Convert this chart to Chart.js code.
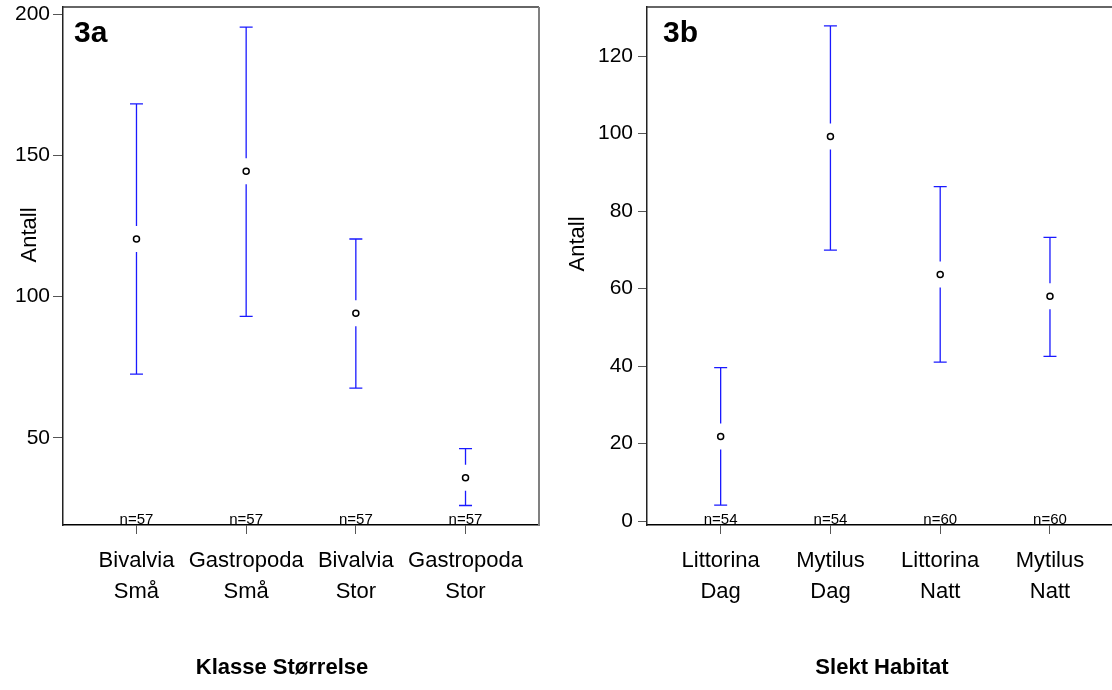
<!DOCTYPE html>
<html>
<head>
<meta charset="utf-8">
<script src="https://cdn.jsdelivr.net/npm/chart.js@4.4.1/dist/chart.umd.min.js"></script>
<style>
  html, body { margin: 0; padding: 0; background: #fff; }
  #wrap { position: relative; width: 1112px; height: 690px; overflow: hidden; }
  canvas { position: absolute; top: 0; }
</style>
</head>
<body>
<div id="wrap">
  <canvas id="panelA" width="564" height="690" style="left:0"></canvas>
  <canvas id="panelB" width="548" height="690" style="left:564px"></canvas>
</div>
<script>
// 3a: Klasse Størrelse
const categoriesA = ['Bivalvia Små', 'Gastropoda Små', 'Bivalvia Stor', 'Gastropoda Stor']
const meanA = [120.4, 144.4, 94.1, 35.9]
const lowA = [72.6, 93.0, 67.6, 26.1]
const highA = [168.2, 195.4, 120.4, 46.2]
const countA = [57, 57, 57, 57]
const ticksA = [50, 100, 150, 200]

// 3b: Slekt Habitat
const categoriesB = ['Littorina Dag', 'Mytilus Dag', 'Littorina Natt', 'Mytilus Natt']
const meanB = [21.8, 99.2, 63.6, 58.0]
const lowB = [4.1, 69.9, 41.0, 42.5]
const highB = [39.6, 127.8, 86.3, 73.2]
const countB = [54, 54, 60, 60]
const ticksB = [0, 20, 40, 60, 80, 100, 120]

const FONT = 'Liberation Sans, Arial, Helvetica, sans-serif'

// error bars, frame, n= labels, panel tag and axis titles
const errorBars = {
  id: 'errorBars',
  beforeDatasetsDraw (chart, args, opts) {
    const { ctx, chartArea: area, scales: { x, y } } = chart
    const means = chart.data.datasets[0].data
    ctx.save()

    // box top / right
    ctx.lineWidth = 1.5
    ctx.strokeStyle = '#333'
    ctx.beginPath()
    ctx.moveTo(area.left, area.top)
    ctx.lineTo(area.right, area.top)
    ctx.stroke()
    if (opts.rightEdge) {
      ctx.strokeStyle = '#808080'
      ctx.lineWidth = 2
      ctx.beginPath()
      ctx.moveTo(area.right, area.top)
      ctx.lineTo(area.right, area.bottom)
      ctx.stroke()
    }

    ctx.strokeStyle = '#1a1aff'
    ctx.lineWidth = 1.3
    opts.low.forEach((lo, i) => {
      const px = x.getPixelForValue(i + 1)
      const pm = y.getPixelForValue(means[i].y)
      const pl = y.getPixelForValue(lo)
      const ph = y.getPixelForValue(opts.high[i])
      ctx.beginPath()
      ctx.moveTo(px, ph); ctx.lineTo(px, pm - 13)
      ctx.moveTo(px, pm + 13); ctx.lineTo(px, pl)
      ctx.moveTo(px - 6.5, ph); ctx.lineTo(px + 6.5, ph)
      ctx.moveTo(px - 6.5, pl); ctx.lineTo(px + 6.5, pl)
      ctx.stroke()
    })

    ctx.fillStyle = '#000'
    ctx.textAlign = 'center'
    ctx.textBaseline = 'alphabetic'
    ctx.font = '15px ' + FONT
    opts.n.forEach((n, i) => {
      ctx.fillText('n=' + n, x.getPixelForValue(i + 1), area.bottom - 1.5)
    })

    ctx.textAlign = 'left'
    ctx.font = 'bold 30px ' + FONT
    ctx.fillText(opts.tag, area.left + opts.tagOffset, area.top + 35)

    // x title
    ctx.textAlign = 'center'
    ctx.textBaseline = 'middle'
    ctx.font = 'bold 22px ' + FONT
    ctx.fillText(opts.xTitle, area.left + opts.xTitleX, area.bottom + 143)

    // rotated y title
    ctx.translate(area.left + opts.yTitleX, area.top + opts.yTitleY)
    ctx.rotate(-Math.PI / 2)
    ctx.font = '22px ' + FONT
    ctx.fillText('Antall', 0, 0)
    ctx.restore()
  }
}

function makePanel (id, cfg) {
  return new Chart(document.getElementById(id), {
    type: 'scatter',
    data: {
      datasets: [{
        data: cfg.means.map((m, i) => ({ x: i + 1, y: m })),
        pointRadius: 3,
        pointHoverRadius: 3,
        pointBackgroundColor: '#fff',
        pointBorderColor: '#000',
        pointBorderWidth: 1.5
      }]
    },
    plugins: [errorBars],
    options: {
      responsive: false,
      animation: false,
      devicePixelRatio: 1,
      layout: {
        autoPadding: false,
        padding: { top: 7, right: cfg.padRight, left: 0, bottom: 0 }
      },
      plugins: {
        legend: { display: false },
        tooltip: { enabled: false },
        errorBars: {
          low: cfg.low,
          high: cfg.high,
          n: cfg.n,
          tag: cfg.tag,
          tagOffset: cfg.tagOffset,
          rightEdge: cfg.rightEdge,
          xTitle: cfg.xTitle,
          xTitleX: cfg.xTitleX,
          yTitleX: cfg.yTitleX,
          yTitleY: cfg.yTitleY
        }
      },
      scales: {
        x: {
          type: 'linear',
          min: cfg.xMin,
          max: cfg.xMax,
          afterBuildTicks: scale => { scale.ticks = cfg.categories.map((c, i) => ({ value: i + 1 })) },
          afterFit: scale => {
            scale.height = 165
            scale.paddingLeft = 0
            scale.paddingRight = 0
          },
          border: { color: '#000', width: 1.5 },
          grid: { drawOnChartArea: false, tickLength: 9, color: '#555', tickWidth: 1 },
          ticks: {
            autoSkip: false,
            maxRotation: 0,
            padding: 12,
            color: '#000',
            font: { family: FONT, size: 22, lineHeight: 1.4 },
            callback: value => cfg.categories[value - 1].split(' ')
          }
        },
        y: {
          min: cfg.yMin,
          max: cfg.yMax,
          afterBuildTicks: scale => { scale.ticks = cfg.ticks.map(value => ({ value })) },
          afterFit: scale => {
            scale.width = cfg.yWidth
            scale.paddingTop = 0
            scale.paddingBottom = 0
          },
          border: { color: '#222', width: 1.5 },
          grid: { drawOnChartArea: false, tickLength: cfg.yTick, color: '#555', tickWidth: 1 },
          ticks: {
            padding: cfg.yPad,
            color: '#000',
            font: { family: FONT, size: 21 }
          }
        }
      }
    }
  })
}

makePanel('panelA', {
  categories: categoriesA,
  means: meanA,
  low: lowA,
  high: highA,
  n: countA,
  ticks: ticksA,
  tag: '3a',
  tagOffset: 11,
  rightEdge: true,
  padRight: 25,
  xMin: 0.33,
  xMax: 4.67,
  yMin: 19.2,
  yMax: 202.5,
  yWidth: 63,
  yTick: 10,
  yPad: 3,
  yTitleX: -33,
  yTitleY: 228,
  xTitle: 'Klasse Størrelse',
  xTitleX: 219
})

makePanel('panelB', {
  categories: categoriesB,
  means: meanB,
  low: lowB,
  high: highB,
  n: countB,
  ticks: ticksB,
  tag: '3b',
  tagOffset: 16,
  rightEdge: false,
  padRight: 0,
  xMin: 0.329,
  xMax: 4.565,
  yMin: -1.03,
  yMax: 132.65,
  yWidth: 83,
  yTick: 9,
  yPad: 5,
  yTitleX: -69,
  yTitleY: 237,
  xTitle: 'Slekt Habitat',
  xTitleX: 235
})
</script>
</body>
</html>
